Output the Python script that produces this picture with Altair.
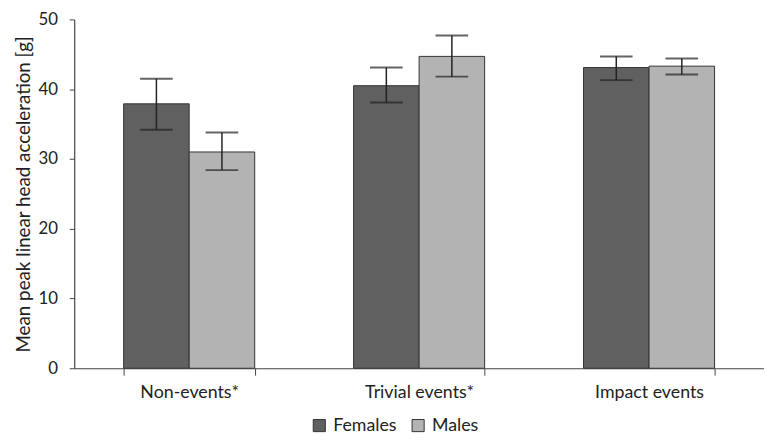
import altair as alt
import pandas as pd

categories = ["Non-events*", "Trivial events*", "Impact events"]
groups = ["Females", "Males"]
females_mean = [37.9, 40.5, 43.1]
females_lo = [34.2, 38.1, 41.3]
females_hi = [41.5, 43.1, 44.7]
males_mean = [31.0, 44.7, 43.3]
males_lo = [28.4, 41.8, 42.1]
males_hi = [33.8, 47.7, 44.4]

rows = []
for i, c in enumerate(categories):
    rows.append({"cat": c, "sex": "Females", "mean": females_mean[i], "lo": females_lo[i], "hi": females_hi[i]})
    rows.append({"cat": c, "sex": "Males", "mean": males_mean[i], "lo": males_lo[i], "hi": males_hi[i]})
df = pd.DataFrame(rows)

FONT = "Lato"

x = alt.X("cat:N", sort=categories, title=None,
          scale=alt.Scale(paddingInner=0.43, paddingOuter=0.215),
          axis=alt.Axis(labelAngle=0, tickBand="extent", tickSize=7, labelPadding=9,
                        labelFontSize=18, labelFont=FONT, labelColor="#222",
                        domainColor="#444", tickColor="#444"))
xo = alt.XOffset("sex:N", sort=groups)
y = alt.Y("mean:Q", title="Mean peak linear head acceleration [g]",
          scale=alt.Scale(domain=[0, 50], nice=False),
          axis=alt.Axis(values=[0, 10, 20, 30, 40, 50], grid=False, tickSize=5,
                        labelPadding=12, labelFontSize=17, labelFont=FONT, labelColor="#222",
                        titleFontSize=19, titleFont=FONT, titleFontWeight="normal",
                        titleColor="#222", titlePadding=5,
                        domainColor="#444", tickColor="#444"))

color = alt.Color("sex:N", sort=groups,
                  scale=alt.Scale(domain=groups, range=["#606060", "#b3b3b3"]),
                  legend=alt.Legend(title=None, orient="none", direction="horizontal",
                                    legendX=239, legendY=402, symbolType="square",
                                    symbolSize=150, symbolStrokeColor="#333",
                                    symbolStrokeWidth=1, labelFontSize=18, labelFont=FONT,
                                    labelColor="#222", columnPadding=12, labelOffset=5))

base = alt.Chart(df)
bars = base.mark_bar(stroke="#333", strokeWidth=1).encode(x=x, xOffset=xo, y=y, color=color)
rules = base.mark_rule(color="#222", strokeWidth=1.5).encode(
    x=alt.X("cat:N", sort=categories), xOffset=xo, y="lo:Q", y2="hi:Q")
caps_hi = base.mark_tick(color="#222", size=33, thickness=2).encode(
    x=alt.X("cat:N", sort=categories), xOffset=xo, y="hi:Q")
caps_lo = base.mark_tick(color="#222", size=33, thickness=2).encode(
    x=alt.X("cat:N", sort=categories), xOffset=xo, y="lo:Q")

chart = alt.layer(bars, rules, caps_hi, caps_lo).properties(
    width=698, height=353, padding={"left": 6, "top": 0, "right": 0, "bottom": 0}
).configure_view(stroke=None).configure_axis(domainWidth=1.2)

chart.save("out.html", embed_options={"renderer": "svg", "actions": False})
